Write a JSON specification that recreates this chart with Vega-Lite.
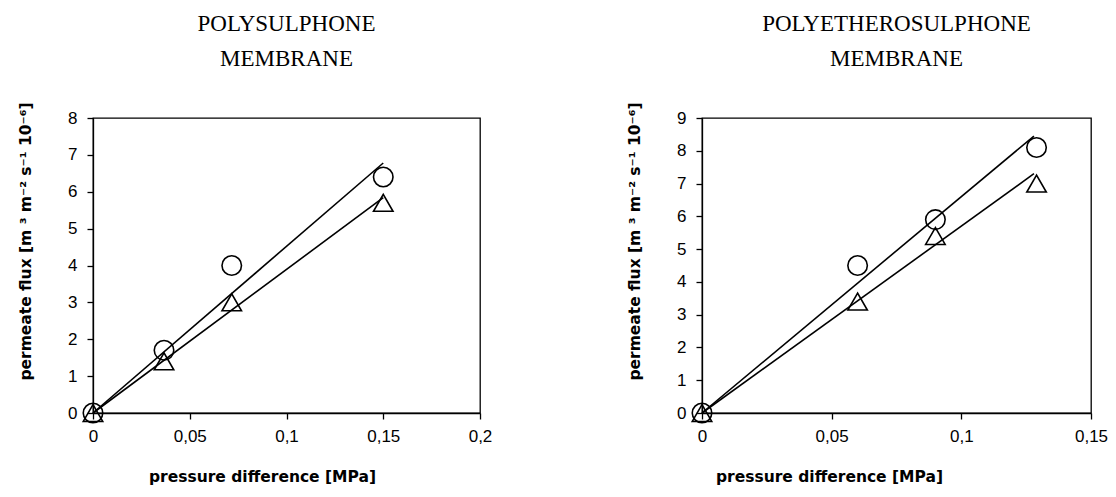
{
  "$schema": "https://vega.github.io/schema/vega-lite/v6.json",
  "background": "white",
  "padding": {"left": 17, "top": 11, "right": 5, "bottom": 5},
  "datasets": {
    "points": [
      {"panel": "PS", "series": "circle", "dp": 0, "flux": 0},
      {"panel": "PS", "series": "circle", "dp": 0.0367, "flux": 1.7},
      {"panel": "PS", "series": "circle", "dp": 0.0717, "flux": 4.0},
      {"panel": "PS", "series": "circle", "dp": 0.15, "flux": 6.4},
      {"panel": "PS", "series": "triangle", "dp": 0, "flux": 0},
      {"panel": "PS", "series": "triangle", "dp": 0.0367, "flux": 1.4},
      {"panel": "PS", "series": "triangle", "dp": 0.0717, "flux": 3.0},
      {"panel": "PS", "series": "triangle", "dp": 0.15, "flux": 5.7},
      {"panel": "PES", "series": "circle", "dp": 0, "flux": 0},
      {"panel": "PES", "series": "circle", "dp": 0.06, "flux": 4.5},
      {"panel": "PES", "series": "circle", "dp": 0.09, "flux": 5.9},
      {"panel": "PES", "series": "circle", "dp": 0.129, "flux": 8.1},
      {"panel": "PES", "series": "triangle", "dp": 0, "flux": 0},
      {"panel": "PES", "series": "triangle", "dp": 0.06, "flux": 3.4},
      {"panel": "PES", "series": "triangle", "dp": 0.09, "flux": 5.4},
      {"panel": "PES", "series": "triangle", "dp": 0.129, "flux": 7.0}
    ],
    "lines": [
      {"panel": "PS", "series": "circle", "dp": 0, "flux": 0},
      {"panel": "PS", "series": "circle", "dp": 0.15, "flux": 6.78},
      {"panel": "PS", "series": "triangle", "dp": 0, "flux": 0},
      {"panel": "PS", "series": "triangle", "dp": 0.15, "flux": 5.84},
      {"panel": "PES", "series": "circle", "dp": 0, "flux": 0},
      {"panel": "PES", "series": "circle", "dp": 0.128, "flux": 8.45},
      {"panel": "PES", "series": "triangle", "dp": 0, "flux": 0},
      {"panel": "PES", "series": "triangle", "dp": 0.128, "flux": 7.3}
    ]
  },
  "config": {
    "view": {"stroke": "black", "strokeWidth": 1.3},
    "axis": {
      "grid": false,
      "domainColor": "black",
      "domainWidth": 1.3,
      "tickColor": "black",
      "tickWidth": 1.3,
      "tickSize": 6,
      "labelFont": "Liberation Sans",
      "labelFontSize": 17,
      "labelColor": "black",
      "labelOverlap": false,
      "labelFlush": false,
      "titleFont": "DejaVu Sans",
      "titleFontSize": 15.5,
      "titleFontWeight": "bold",
      "titleColor": "black"
    },
    "title": {
      "font": "Liberation Serif",
      "fontSize": 23,
      "fontWeight": "normal",
      "color": "black",
      "lineHeight": 35,
      "anchor": "middle",
      "frame": "group"
    }
  },
  "spacing": 133,
  "hconcat": [
    {
      "title": {"text": ["POLYSULPHONE", "MEMBRANE"], "offset": 26},
      "width": 387,
      "height": 295,
      "encoding": {
        "x": {
          "field": "dp", "type": "quantitative",
          "scale": {"domain": [0, 0.2], "nice": false, "zero": false},
          "axis": {"values": [0, 0.05, 0.1, 0.15, 0.2], "labelExpr": "replace(format(datum.value, '~g'), '.', ',')", "title": "pressure difference [MPa]", "titlePadding": 25, "labelPadding": 9, "titleX": 169}
        },
        "y": {
          "field": "flux", "type": "quantitative",
          "scale": {"domain": [0, 8], "nice": false, "zero": false},
          "axis": {"values": [0, 1, 2, 3, 4, 5, 6, 7, 8], "title": "permeate flux [m   ³ m⁻² s⁻¹ 10⁻⁶]", "titlePadding": 34, "labelPadding": 10, "titleY": 123}
        }
      },
      "layer": [
        {
          "data": {"name": "lines"},
          "transform": [{"filter": "datum.panel === 'PS'"}],
          "mark": {"type": "line", "color": "black", "strokeWidth": 1.6},
          "encoding": {"detail": {"field": "series"}}
        },
        {
          "data": {"name": "points"},
          "transform": [{"filter": "datum.panel === 'PS'"}],
          "mark": {"type": "point", "filled": false, "stroke": "black", "strokeWidth": 1.6, "size": 380, "opacity": 1},
          "encoding": {
            "shape": {
              "field": "series", "type": "nominal",
              "scale": {"domain": ["triangle", "circle"], "range": ["triangle-up", "circle"]},
              "legend": null
            }
          }
        }
      ]
    },
    {
      "title": {"text": ["POLYETHEROSULPHONE", "MEMBRANE"], "offset": 26},
      "width": 389,
      "height": 295,
      "encoding": {
        "x": {
          "field": "dp", "type": "quantitative",
          "scale": {"domain": [0, 0.15], "nice": false, "zero": false},
          "axis": {"values": [0, 0.05, 0.1, 0.15], "labelExpr": "replace(format(datum.value, '~g'), '.', ',')", "title": "pressure difference [MPa]", "titlePadding": 25, "labelPadding": 9, "titleX": 127}
        },
        "y": {
          "field": "flux", "type": "quantitative",
          "scale": {"domain": [0, 9], "nice": false, "zero": false},
          "axis": {"values": [0, 1, 2, 3, 4, 5, 6, 7, 8, 9], "title": "permeate flux [m   ³ m⁻² s⁻¹ 10⁻⁶]", "titlePadding": 34, "labelPadding": 10, "titleY": 123}
        }
      },
      "layer": [
        {
          "data": {"name": "lines"},
          "transform": [{"filter": "datum.panel === 'PES'"}],
          "mark": {"type": "line", "color": "black", "strokeWidth": 1.6},
          "encoding": {"detail": {"field": "series"}}
        },
        {
          "data": {"name": "points"},
          "transform": [{"filter": "datum.panel === 'PES'"}],
          "mark": {"type": "point", "filled": false, "stroke": "black", "strokeWidth": 1.6, "size": 380, "opacity": 1},
          "encoding": {
            "shape": {
              "field": "series", "type": "nominal",
              "scale": {"domain": ["triangle", "circle"], "range": ["triangle-up", "circle"]},
              "legend": null
            }
          }
        }
      ]
    }
  ]
}
